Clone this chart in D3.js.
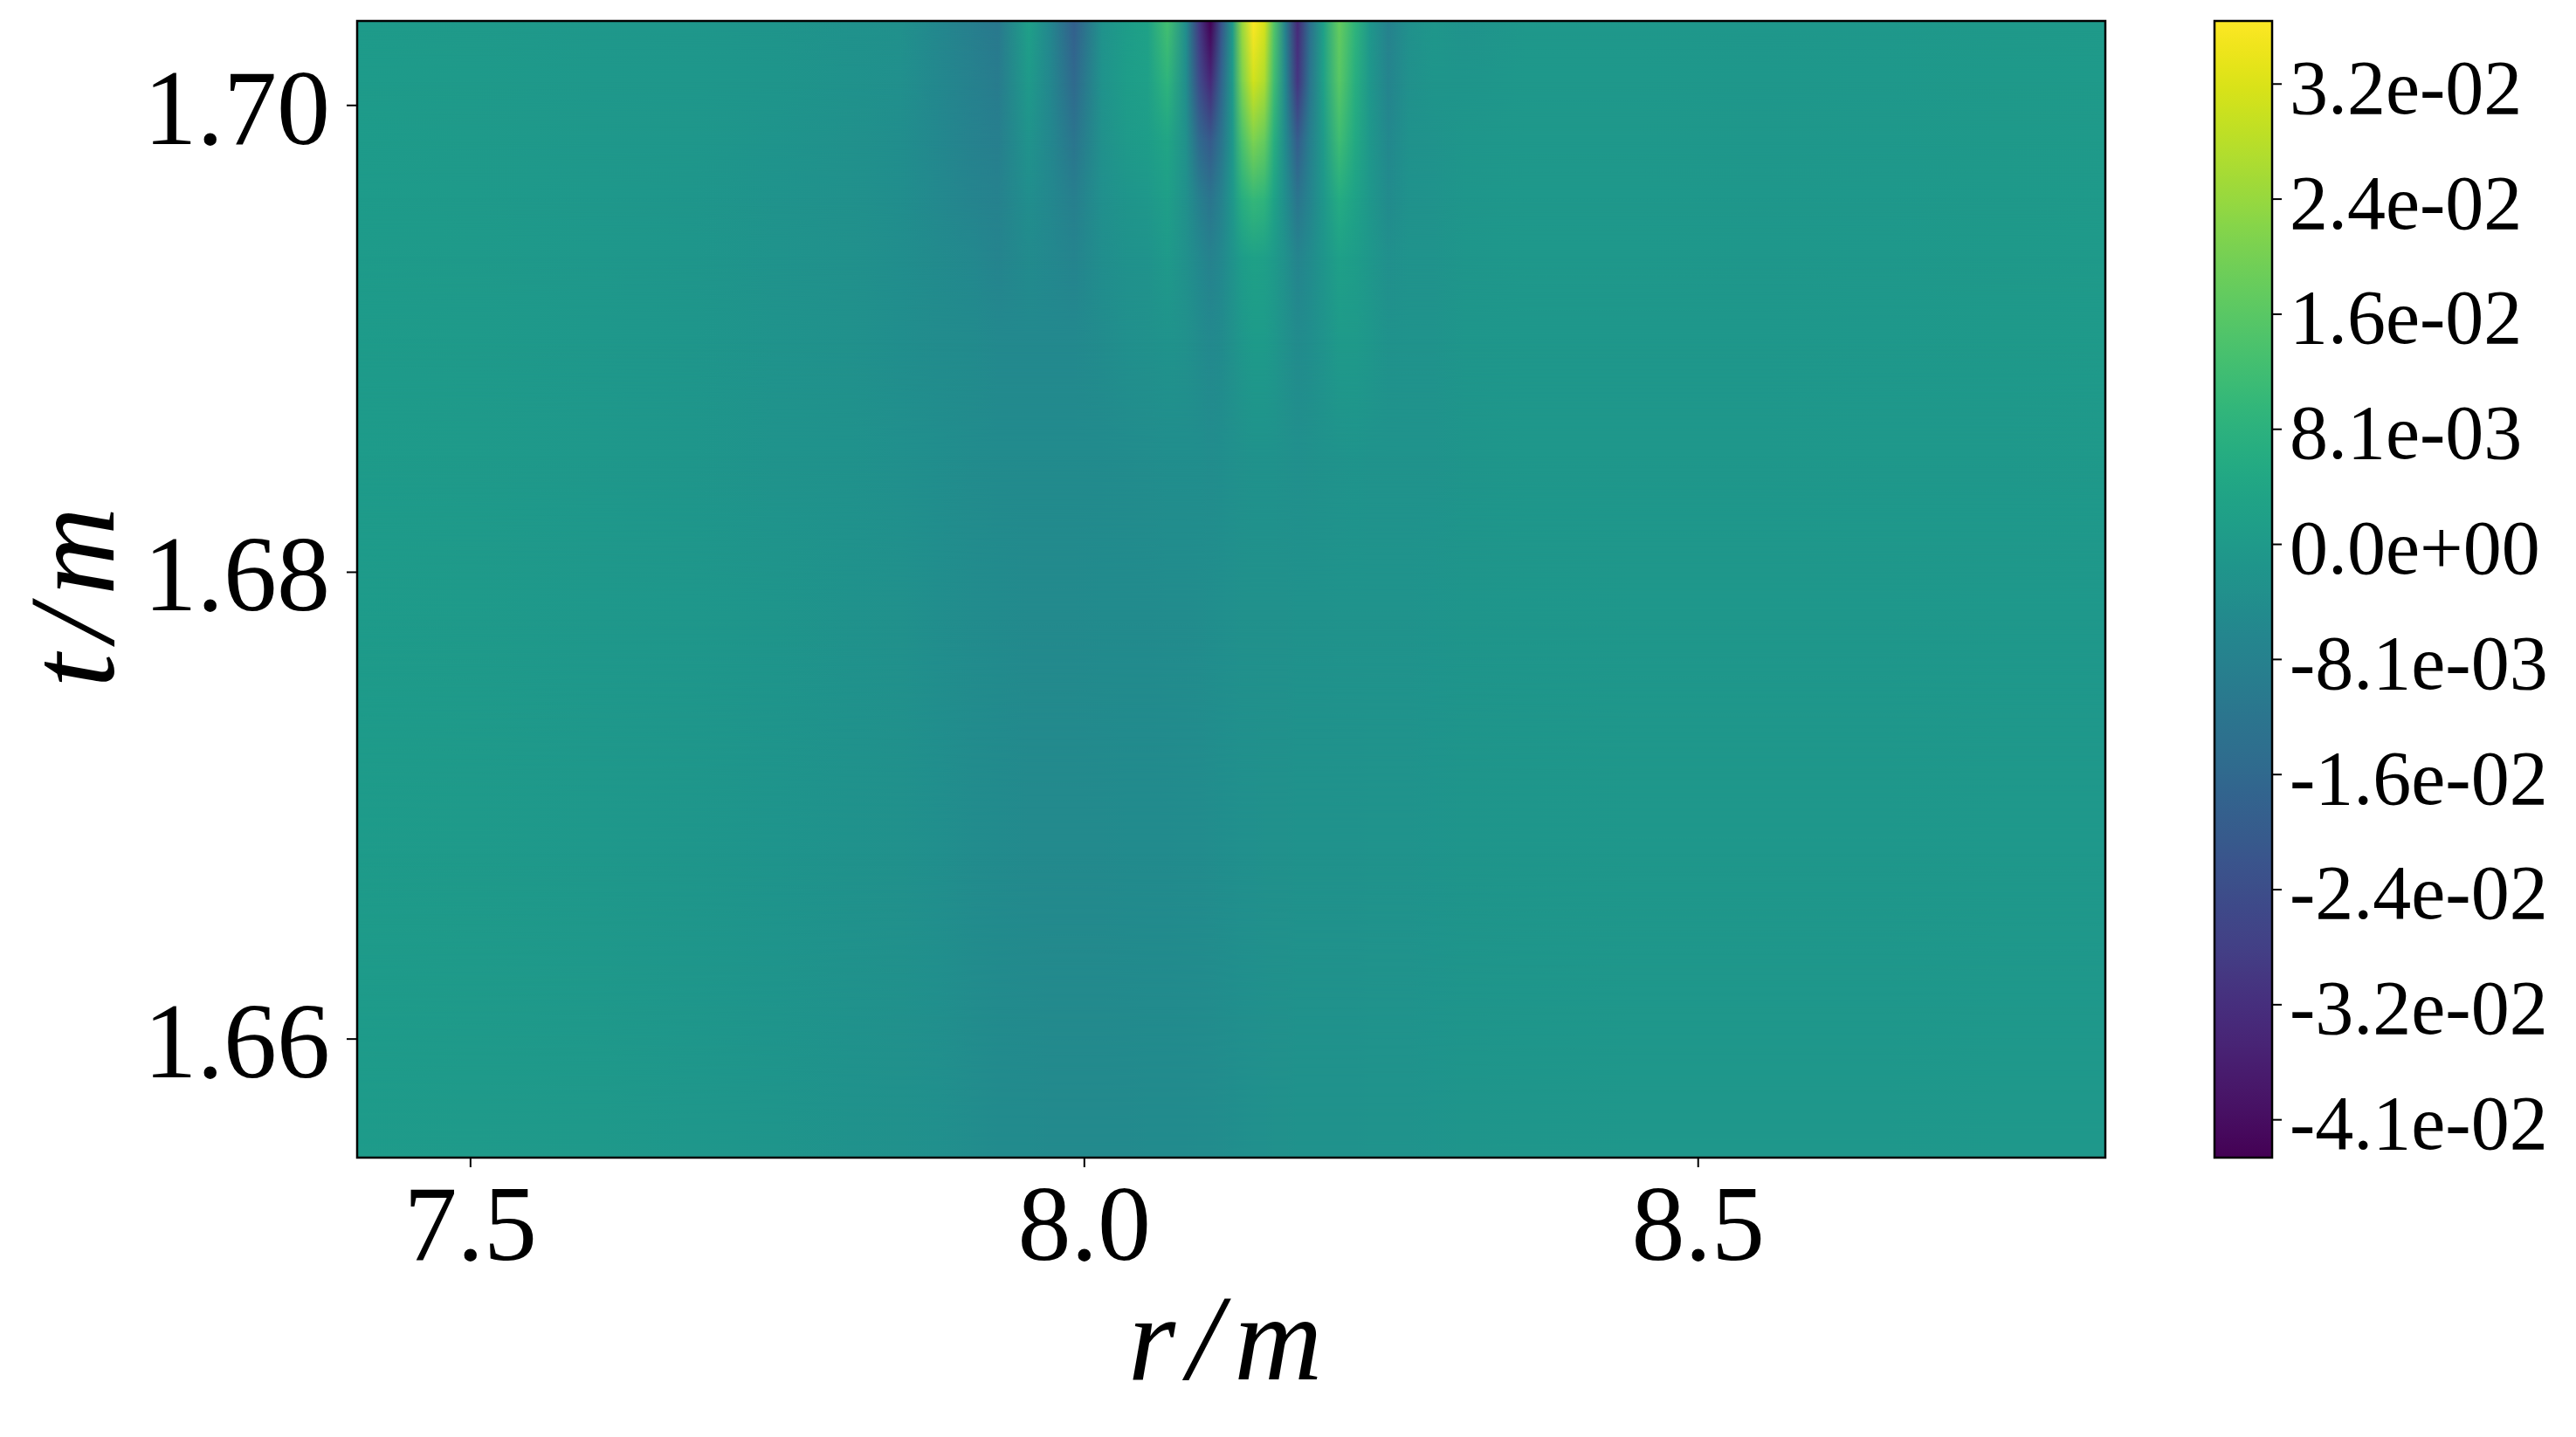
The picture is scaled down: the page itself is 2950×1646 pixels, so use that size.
<!DOCTYPE html>
<html>
<head>
<meta charset="utf-8">
<script src="https://cdn.jsdelivr.net/npm/d3@7"></script>
<style>
  body { margin: 0; background: #fff; }
</style>
</head>
<body>
<svg id="chart" width="2950" height="1646"></svg>
<script>
var rStops = [7.408, 7.50, 7.60, 7.68, 7.75, 7.81, 7.85, 7.88, 7.91, 7.93, 7.955, 7.972, 7.992,
  8.015, 8.035, 8.052, 8.068, 8.083, 8.094, 8.103, 8.112, 8.121, 8.129, 8.138, 8.147, 8.155,
  8.164, 8.174, 8.184, 8.195, 8.208, 8.221, 8.233, 8.248, 8.265, 8.285, 8.31, 8.36, 8.45,
  8.55, 8.65, 8.75, 8.832];

// rows (t), top to bottom
var tRows = [1.7036, 1.701, 1.6985, 1.696, 1.6935, 1.690, 1.685, 1.678, 1.668, 1.6549];

// field values in units of 1e-3, one list per row
var row0 = [0.3, 0.2, -0.5, -1, -1.5, -2.5, -3, -6, -9, -11, 2, -6, -19, -2, 1, 3, 13, -4, -30, -43.3, -22, 0, 25, 36.9, 32, 15, -8, -34, -14, 2, 18, 9, -1, -8, -3, -1, -2, -0.5, -0.5, -0.8, -0.5, -0.3, 0];
var row1 = [0.3, 0.2, -0.5, -1, -1.5, -2.5, -3.5, -6, -8.5, -10, 0, -6, -16, -2, 1, 2, 9, -4, -25, -34, -17, 0, 21, 31, 27, 12, -6, -31, -12, 2, 16, 7, -1, -7, -3, -1.5, -1.5, -0.5, -0.5, -0.8, -0.6, -0.3, 0];
var row2 = [0.3, 0, -0.5, -1, -1.8, -3, -4, -6, -8, -9, -2, -6, -12, -3, 0, 1, 4, -3, -16, -21, -12, -1, 14, 21, 18, 7, -5, -20, -9, 0, 12, 5, -1, -6, -2.5, -2, -1.2, -0.6, -0.5, -0.8, -0.6, -0.3, 0];
var row3 = [0.3, 0, -0.5, -1.2, -2, -3, -4, -5.5, -7, -8, -4, -6, -9, -3.5, -1.5, -0.5, 1.5, -3, -9, -12, -8, -1, 7, 10, 9, 3, -4, -12, -7, -1, 6, 3, -1, -5, -2.5, -2, -1.2, -0.6, -0.6, -0.8, -0.6, -0.3, 0];
var row4 = [0.3, 0, -0.6, -1.2, -2, -3, -4, -5, -6, -7, -5, -6, -7, -4, -2.5, -2, 0, -3, -6, -8, -6, -2, 1, 2.5, 2, 0, -3, -7, -5, -1.5, 2, 1, -1, -3.5, -2, -2, -1.2, -0.6, -0.6, -0.8, -0.6, -0.3, 0];
var row5 = [0.3, 0, -0.6, -1.2, -2, -3, -4, -4.5, -5, -5.5, -5.5, -5.5, -5.5, -4.5, -3.5, -3, -2, -3, -4.5, -5.5, -5, -3, -1, 0.5, 0.5, -1, -3, -5, -4, -2, 0, 0, -1, -2.5, -2, -2, -1.2, -0.8, -0.7, -0.8, -0.6, -0.3, 0];
var row6 = [0.3, 0, -0.6, -1.2, -2, -2.8, -3.5, -4, -4.5, -5, -5, -5, -5, -5, -4.5, -4.2, -4, -4, -4, -4.2, -4, -3.5, -3, -2.5, -2.5, -2.8, -3, -3.5, -3, -2.5, -2, -1.8, -2, -2.2, -2, -2, -1.5, -1, -0.8, -0.8, -0.6, -0.4, -0.2];
var row7 = [0.3, 0.2, -0.4, -1, -1.5, -2.5, -3, -4, -4.5, -5, -5.2, -5.2, -5.2, -5, -5, -4.8, -4.5, -4.5, -4.2, -4, -3.8, -3.5, -3.2, -3, -3, -3, -3, -2.8, -2.6, -2.4, -2.2, -2.2, -2.2, -2, -2, -1.8, -1.6, -1.2, -1, -1, -0.8, -0.6, -0.5];
var row8 = [0.3, 0.1, -0.5, -1.2, -1.8, -2.5, -3, -3.8, -4.5, -5, -5.2, -5.2, -5.2, -5.2, -5, -5, -4.8, -4.6, -4.5, -4.3, -4, -3.8, -3.5, -3.3, -3.2, -3, -3, -2.8, -2.6, -2.5, -2.4, -2.3, -2.2, -2, -2, -1.8, -1.6, -1.3, -1, -1, -0.8, -0.6, -0.5];
var row9 = [0.3, 0.2, -0.3, -1, -1.6, -2.5, -3, -3.5, -4.2, -4.8, -5, -5.2, -5.2, -5.2, -5.2, -5, -5, -4.8, -4.6, -4.5, -4.3, -4, -3.8, -3.5, -3.3, -3.1, -3, -2.8, -2.6, -2.5, -2.4, -2.3, -2.2, -2, -2, -1.8, -1.6, -1.3, -1, -0.9, -0.8, -0.6, -0.5];
var fieldRows = [row0, row1, row2, row3, row4, row5, row6, row7, row8, row9];

var xTicks = [7.5, 8.0, 8.5];
var yTicks = [1.66, 1.68, 1.70];
var cbTicks = [-0.0406, -0.03248, -0.02436, -0.01624, -0.00812, 0, 0.00812, 0.01624, 0.02436, 0.03248];
var cbLabels = ["-4.1e-02", "-3.2e-02", "-2.4e-02", "-1.6e-02", "-8.1e-03", "0.0e+00", "8.1e-03", "1.6e-02", "2.4e-02", "3.2e-02"];

var rRange = [7.408, 8.832];
var tRange = [1.6549, 1.7036];
var vRange = [-0.0433, 0.0369];

var serif = '"Liberation Serif", "DejaVu Serif", serif';
// plot box in pixels (note: "top" is taken by window.top)
var plotL = 409, plotR = 2411, plotT = 24, plotB = 1326;

var svg = d3.select("#chart");
var defs = svg.append("defs");

var x = d3.scaleLinear().domain(rRange).range([plotL, plotR]);
var y = d3.scaleLinear().domain(tRange).range([plotB, plotT]);
var color = d3.scaleSequential(d3.interpolateViridis).domain(vRange);

// one horizontal gradient per row
var x0 = x(rStops[0]), x1 = x(rStops[rStops.length - 1]);
fieldRows.forEach(function (vals, i) {
  var g = defs.append("linearGradient")
    .attr("id", "row" + i)
    .attr("gradientUnits", "userSpaceOnUse")
    .attr("x1", x0).attr("x2", x1).attr("y1", 0).attr("y2", 0);
  g.selectAll("stop").data(vals).join("stop")
    .attr("offset", function (v, j) { return (x(rStops[j]) - x0) / (x1 - x0); })
    .attr("stop-color", function (v) { return color(v * 1e-3); });
});

// vertical fade, so the next row blends in over the band
var fadeGrad = defs.append("linearGradient").attr("id", "fadeGrad")
  .attr("x1", 0).attr("y1", 0).attr("x2", 0).attr("y2", 1);
fadeGrad.append("stop").attr("offset", 0).attr("stop-color", "#fff").attr("stop-opacity", 0);
fadeGrad.append("stop").attr("offset", 1).attr("stop-color", "#fff").attr("stop-opacity", 1);
defs.append("mask").attr("id", "fade").attr("maskContentUnits", "objectBoundingBox")
  .append("rect").attr("width", 1).attr("height", 1).attr("fill", "url(#fadeGrad)");

defs.append("clipPath").attr("id", "plotClip")
  .append("rect").attr("x", plotL).attr("y", plotT).attr("width", plotR - plotL).attr("height", plotB - plotT);

var heat = svg.append("g").attr("clip-path", "url(#plotClip)");
d3.range(tRows.length - 1).forEach(function (i) {
  var yTop = y(tRows[i]), yBot = y(tRows[i + 1]);
  heat.append("rect")
    .attr("x", x0).attr("y", yTop).attr("width", x1 - x0).attr("height", yBot - yTop + 1)
    .attr("fill", "url(#row" + i + ")");
  heat.append("rect")
    .attr("x", x0).attr("y", yTop).attr("width", x1 - x0).attr("height", yBot - yTop + 1)
    .attr("fill", "url(#row" + (i + 1) + ")")
    .attr("mask", "url(#fade)");
});

svg.append("rect")
  .attr("x", plotL).attr("y", plotT).attr("width", plotR - plotL).attr("height", plotB - plotT)
  .attr("fill", "none").attr("stroke", "#000").attr("stroke-width", 2.5);

// axes
var xAxis = svg.append("g")
  .attr("transform", "translate(0," + plotB + ")")
  .call(d3.axisBottom(x).tickValues(xTicks).tickFormat(d3.format(".1f")).tickSize(11));
xAxis.select(".domain").remove();
xAxis.attr("font-family", serif).attr("font-size", 122);
xAxis.selectAll("line").attr("stroke-width", 2);
xAxis.selectAll("text").attr("y", 117).attr("dy", null);

var yAxis = svg.append("g")
  .attr("transform", "translate(" + plotL + ",0)")
  .call(d3.axisLeft(y).tickValues(yTicks).tickFormat(d3.format(".2f")).tickSize(12).tickPadding(19));
yAxis.select(".domain").remove();
yAxis.attr("font-family", serif).attr("font-size", 122);
yAxis.selectAll("line").attr("stroke-width", 2);
yAxis.selectAll("text").attr("dy", "0.36em");

svg.append("text")
  .attr("x", (plotL + plotR) / 2).attr("y", 1580)
  .attr("text-anchor", "middle")
  .attr("font-family", serif).attr("font-style", "italic").attr("font-size", 140)
  .attr("letter-spacing", 14)
  .text("r/m");

svg.append("text")
  .attr("transform", "translate(130," + ((plotT + plotB) / 2 + 2) + ") rotate(-90)")
  .attr("text-anchor", "middle")
  .attr("font-family", serif).attr("font-style", "italic").attr("font-size", 140)
  .attr("letter-spacing", 14)
  .text("t/m");

// colorbar
var cbLeft = 2536, cbRight = 2602;
var cy = d3.scaleLinear().domain(vRange).range([plotB, plotT]);
var cbGrad = defs.append("linearGradient").attr("id", "cbGrad")
  .attr("x1", 0).attr("y1", 1).attr("x2", 0).attr("y2", 0);
cbGrad.selectAll("stop").data(d3.range(0, 1.0001, 0.02)).join("stop")
  .attr("offset", function (d) { return d; })
  .attr("stop-color", function (d) { return d3.interpolateViridis(d); });

svg.append("rect")
  .attr("x", cbLeft).attr("y", plotT).attr("width", cbRight - cbLeft).attr("height", plotB - plotT)
  .attr("fill", "url(#cbGrad)").attr("stroke", "#000").attr("stroke-width", 2.5);

var cbAxis = svg.append("g")
  .attr("transform", "translate(" + cbRight + ",0)")
  .call(d3.axisRight(cy).tickValues(cbTicks)
    .tickFormat(function (d, i) { return cbLabels[i]; })
    .tickSize(11).tickPadding(9));
cbAxis.select(".domain").remove();
cbAxis.attr("font-family", serif).attr("font-size", 88);
cbAxis.selectAll("line").attr("stroke-width", 2);
cbAxis.selectAll("text").attr("dy", "0.38em");
</script>
</body>
</html>
